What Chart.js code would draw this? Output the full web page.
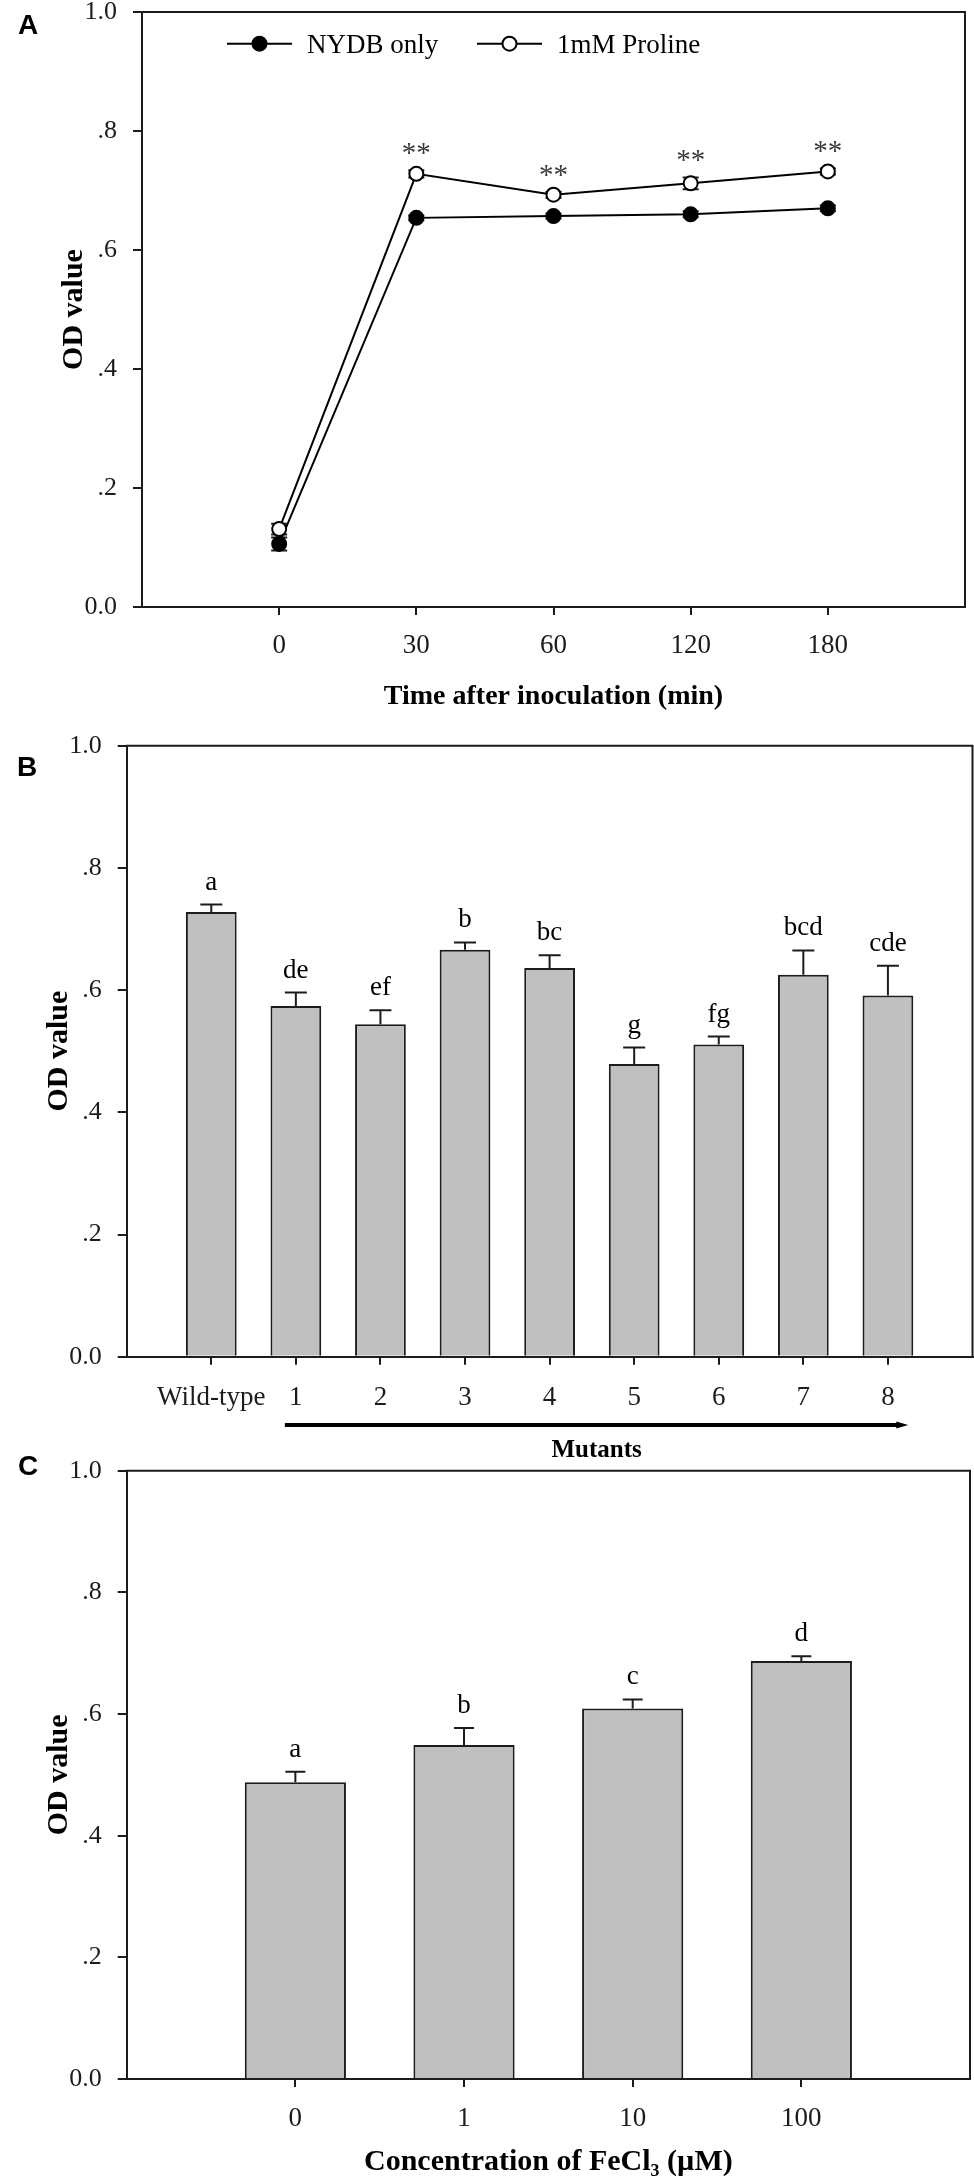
<!DOCTYPE html>
<html>
<head>
<meta charset="utf-8">
<title>OD value panels</title>
<script src="https://cdn.jsdelivr.net/npm/chart.js@4.4.0/dist/chart.umd.min.js"></script>
<style>
  body { margin: 0; background: #fff; }
  #page { position: relative; width: 974px; height: 2182px; overflow: hidden; background: #fff; }
  #page canvas { position: absolute; left: 0; }
  .tag { position: absolute; left: 18px; font: bold 28px "Liberation Sans", Arial, sans-serif; line-height: 1; color: #000; }
</style>
</head>
<body>
<div id="page">
  <canvas id="chartA" width="974" height="720" style="top:0;width:974px;height:720px"></canvas>
  <canvas id="chartB" width="974" height="740" style="top:720px;width:974px;height:740px"></canvas>
  <canvas id="chartC" width="974" height="722" style="top:1460px;width:974px;height:722px"></canvas>
  <div class="tag" style="top:11px">A</div>
  <div class="tag" style="top:753px;left:17px">B</div>
  <div class="tag" style="top:1452px">C</div>
</div>
<script>
// shared y axis
var yTicks = [0, 0.2, 0.4, 0.6, 0.8, 1.0];
var yTickLabels = ['0.0', '.2', '.4', '.6', '.8', '1.0'];
var yTitle = 'OD value';

// A: time course
var timeLabels = ['0', '30', '60', '120', '180'];
var timePos = [1, 2, 3, 4, 5];
var nydbOnly = [0.106, 0.654, 0.657, 0.660, 0.670];
var nydbErr = [0.011, 0.004, 0.004, 0.005, 0.005];
var proline = [0.131, 0.728, 0.693, 0.712, 0.732];
var prolineErr = [0.009, 0.006, 0.005, 0.010, 0.005];
var starMarks = ['', '**', '**', '**', '**'];
var timeTitle = 'Time after inoculation (min)';

// B: wild-type and mutants
var strainLabels = ['Wild-type', '1', '2', '3', '4', '5', '6', '7', '8'];
var strainPos = [0, 1, 2, 3, 4, 5, 6, 7, 8];
var strainOD = [0.728, 0.574, 0.544, 0.666, 0.636, 0.479, 0.511, 0.625, 0.591];
var strainErr = [0.012, 0.022, 0.023, 0.012, 0.021, 0.027, 0.013, 0.040, 0.049];
var strainGroups = ['a', 'de', 'ef', 'b', 'bc', 'g', 'fg', 'bcd', 'cde'];
var mutantLabel = 'Mutants';

// C: FeCl3 concentration
var feLabels = ['0', '1', '10', '100'];
var fePos = [0, 1, 2, 3];
var feOD = [0.488, 0.549, 0.609, 0.687];
var feErr = [0.017, 0.028, 0.015, 0.008];
var feGroups = ['a', 'b', 'c', 'd'];
var feTitle = 'Concentration of FeCl\u2083 (\u00b5M)';

var SERIF = '"Liberation Serif", "Times New Roman", serif';
var INK = '#1c1c1c';

function toPoints(pos, vals) {
    return vals.map(function (v, i) { return { x: pos[i], y: v }; });
}

function yAxis(width, titlePad) {
    return {
        type: 'linear', min: 0, max: 1,
        afterBuildTicks: function (scale) {
            scale.ticks = yTicks.map(function (v) { return { value: v }; });
        },
        afterFit: function (scale) {
            scale.width = width;
            scale.paddingTop = 0;
            scale.paddingBottom = 0;
        },
        ticks: {
            callback: function (v, i) { return yTickLabels[i]; },
            font: { family: SERIF, size: 26 }, color: INK, padding: 16
        },
        grid: { display: true, drawOnChartArea: false, drawTicks: true, tickLength: 9, color: INK, lineWidth: 2 },
        border: { display: true, color: INK, width: 2 },
        title: {
            display: true, text: yTitle, color: '#000',
            font: { family: SERIF, size: 30, weight: 'bold' },
            padding: { top: titlePad, bottom: 0 }
        }
    };
}

function xAxis(pos, labels, min, max, height, tickPad, title) {
    return {
        type: 'linear', min: min, max: max, offset: false,
        afterBuildTicks: function (scale) {
            scale.ticks = pos.map(function (v) { return { value: v }; });
        },
        afterFit: function (scale) {
            scale.height = height;
            scale.paddingLeft = 0;
            scale.paddingRight = 0;
        },
        ticks: {
            callback: function (v, i) { return labels[i]; },
            font: { family: SERIF, size: 27 }, color: INK, padding: tickPad,
            autoSkip: false, maxRotation: 0
        },
        grid: { display: true, offset: false, drawOnChartArea: false, drawTicks: true, tickLength: 8, color: INK, lineWidth: 2 },
        border: { display: true, color: INK, width: 2 },
        title: title || { display: false }
    };
}

// top and right edges of the box
var frame = {
    id: 'frame',
    afterDraw: function (chart) {
        var a = chart.chartArea, ctx = chart.ctx;
        ctx.save();
        ctx.strokeStyle = INK;
        ctx.lineWidth = 2;
        ctx.beginPath();
        ctx.moveTo(a.left - 1, a.top);
        ctx.lineTo(a.right, a.top);
        ctx.lineTo(a.right, a.bottom);
        ctx.stroke();
        ctx.restore();
    }
};

function drawErrors(chart, opts) {
    var ctx = chart.ctx, y = chart.scales.y;
    ctx.save();
    ctx.strokeStyle = INK;
    ctx.lineWidth = 2;
    chart.data.datasets.forEach(function (ds, di) {
        if (!ds.errors) return;
        var meta = chart.getDatasetMeta(di);
        meta.data.forEach(function (el, i) {
            var v = ds.data[i].y, e = ds.errors[i];
            var top = y.getPixelForValue(v + e);
            var bot = y.getPixelForValue(opts.both ? v - e : v);
            var h = opts.cap / 2;
            ctx.beginPath();
            ctx.moveTo(el.x, bot);
            ctx.lineTo(el.x, top);
            ctx.moveTo(el.x - h, top);
            ctx.lineTo(el.x + h, top);
            if (opts.both) {
                ctx.moveTo(el.x - h, bot);
                ctx.lineTo(el.x + h, bot);
            }
            ctx.stroke();
        });
    });
    ctx.restore();
}

var errorBars = {
    id: 'errorBars',
    beforeDatasetsDraw: function (chart, args, opts) { if (opts.under) drawErrors(chart, opts); },
    afterDatasetsDraw: function (chart, args, opts) { if (!opts.under) drawErrors(chart, opts); }
};

// letters / asterisks above the error bars
var groupMarks = {
    id: 'groupMarks',
    afterDatasetsDraw: function (chart, args, opts) {
        var ctx = chart.ctx, y = chart.scales.y;
        ctx.save();
        ctx.font = opts.font;
        ctx.fillStyle = opts.color;
        ctx.textAlign = 'center';
        ctx.textBaseline = 'alphabetic';
        chart.data.datasets.forEach(function (ds, di) {
            if (!ds.marks) return;
            var meta = chart.getDatasetMeta(di);
            meta.data.forEach(function (el, i) {
                var top = y.getPixelForValue(ds.data[i].y + ds.errors[i]);
                ctx.fillText(ds.marks[i], el.x, top - opts.gap);
            });
        });
        ctx.restore();
    }
};

// legend drawn inside the plot, line through marker
var lineLegend = {
    id: 'lineLegend',
    afterDraw: function (chart, args, opts) {
        var ctx = chart.ctx, a = chart.chartArea;
        ctx.save();
        ctx.font = opts.font;
        ctx.textBaseline = 'alphabetic';
        ctx.textAlign = 'left';
        chart.data.datasets.forEach(function (ds, i) {
            var x = a.left + opts.x[i], y = a.top + opts.y;
            ctx.strokeStyle = ds.borderColor;
            ctx.lineWidth = ds.borderWidth;
            ctx.beginPath();
            ctx.moveTo(x, y);
            ctx.lineTo(x + opts.lineLength, y);
            ctx.stroke();
            ctx.beginPath();
            ctx.arc(x + opts.lineLength / 2, y, ds.pointRadius, 0, Math.PI * 2);
            ctx.fillStyle = ds.pointBackgroundColor;
            ctx.fill();
            ctx.lineWidth = ds.pointBorderWidth;
            ctx.strokeStyle = ds.pointBorderColor;
            ctx.stroke();
            ctx.fillStyle = '#000';
            ctx.fillText(ds.label, x + opts.lineLength + opts.gap, y + 9.5);
        });
        ctx.restore();
    }
};

// thick arrow under the mutant ticks with its label
var groupArrow = {
    id: 'groupArrow',
    afterDraw: function (chart, args, opts) {
        var ctx = chart.ctx, x = chart.scales.x, a = chart.chartArea;
        var x0 = x.getPixelForValue(opts.from), x1 = x.getPixelForValue(opts.to);
        var y = a.bottom + opts.dy;
        ctx.save();
        ctx.strokeStyle = '#000';
        ctx.fillStyle = '#000';
        ctx.lineWidth = 4;
        ctx.beginPath();
        ctx.moveTo(x0, y);
        ctx.lineTo(x1 - 8, y);
        ctx.stroke();
        ctx.beginPath();
        ctx.moveTo(x1 - 12, y - 3.5);
        ctx.lineTo(x1, y);
        ctx.lineTo(x1 - 12, y + 3.5);
        ctx.closePath();
        ctx.fill();
        ctx.font = 'bold 25px ' + SERIF;
        ctx.textAlign = 'center';
        ctx.textBaseline = 'alphabetic';
        ctx.fillText(opts.text, (x0 + x1) / 2, y + opts.textDy);
        ctx.restore();
    }
};

Chart.defaults.font.family = SERIF;
Chart.defaults.color = INK;

new Chart(document.getElementById('chartA'), {
    type: 'line',
    data: {
        datasets: [{
            label: 'NYDB only',
            data: toPoints(timePos, nydbOnly),
            errors: nydbErr,
            borderColor: '#000', borderWidth: 2,
            pointRadius: 7, pointBackgroundColor: '#000', pointBorderColor: '#000', pointBorderWidth: 2,
            order: 1
        }, {
            label: '1mM Proline',
            data: toPoints(timePos, proline),
            errors: prolineErr,
            marks: starMarks,
            borderColor: '#000', borderWidth: 2,
            pointRadius: 7, pointBackgroundColor: '#fff', pointBorderColor: '#000', pointBorderWidth: 2,
            order: 0
        }]
    },
    options: {
        responsive: false,
        animation: false,
        layout: { padding: { top: 12, right: 5, left: 0, bottom: 0 } },
        scales: {
            x: xAxis(timePos, timeLabels, 0, 6, 113, 15, {
                display: true, text: timeTitle, color: '#000',
                font: { family: SERIF, size: 28, weight: 'bold' },
                padding: { top: 0, bottom: 6 }
            }),
            y: yAxis(142, 56)
        },
        plugins: {
            legend: { display: false },
            tooltip: { enabled: false },
            errorBars: { under: true, both: true, cap: 16 },
            groupMarks: { font: '29px ' + SERIF, color: '#3a3a3a', gap: 8 },
            lineLegend: { x: [85, 335], y: 31.7, lineLength: 65, gap: 15, font: '27px ' + SERIF }
        }
    },
    plugins: [frame, errorBars, groupMarks, lineLegend]
});

new Chart(document.getElementById('chartB'), {
    type: 'bar',
    data: {
        datasets: [{
            label: 'OD value',
            data: toPoints(strainPos, strainOD),
            errors: strainErr,
            marks: strainGroups,
            backgroundColor: '#c0c0c0',
            borderColor: INK,
            borderWidth: 2,
            borderSkipped: 'bottom',
            barPercentage: 0.6,
            categoryPercentage: 1
        }]
    },
    options: {
        responsive: false,
        animation: false,
        layout: { padding: { top: 25.7, right: 1.5, left: 0, bottom: 0 } },
        scales: {
            x: xAxis(strainPos, strainLabels, -1, 9, 103.3, 17),
            y: yAxis(126.7, 41)
        },
        plugins: {
            legend: { display: false },
            tooltip: { enabled: false },
            errorBars: { under: false, both: false, cap: 22 },
            groupMarks: { font: '27px ' + SERIF, color: '#000', gap: 15 },
            groupArrow: { from: 0.87, to: 8.24, dy: 68.3, textDy: 32, text: mutantLabel }
        }
    },
    plugins: [frame, errorBars, groupMarks, groupArrow]
});

new Chart(document.getElementById('chartC'), {
    type: 'bar',
    data: {
        datasets: [{
            label: 'OD value',
            data: toPoints(fePos, feOD),
            errors: feErr,
            marks: feGroups,
            backgroundColor: '#c0c0c0',
            borderColor: INK,
            borderWidth: 2,
            borderSkipped: 'bottom',
            barPercentage: 0.6,
            categoryPercentage: 1
        }]
    },
    options: {
        responsive: false,
        animation: false,
        layout: { padding: { top: 10.7, right: 4, left: 0, bottom: 0 } },
        scales: {
            x: xAxis(fePos, feLabels, -1, 4, 103, 16, {
                display: true, text: feTitle, color: '#000',
                font: { family: SERIF, size: 30, weight: 'bold' },
                padding: { top: 0, bottom: 2 }
            }),
            y: yAxis(126.7, 41)
        },
        plugins: {
            legend: { display: false },
            tooltip: { enabled: false },
            errorBars: { under: false, both: false, cap: 20 },
            groupMarks: { font: '27px ' + SERIF, color: '#000', gap: 15 }
        }
    },
    plugins: [frame, errorBars, groupMarks]
});
</script>
</body>
</html>
